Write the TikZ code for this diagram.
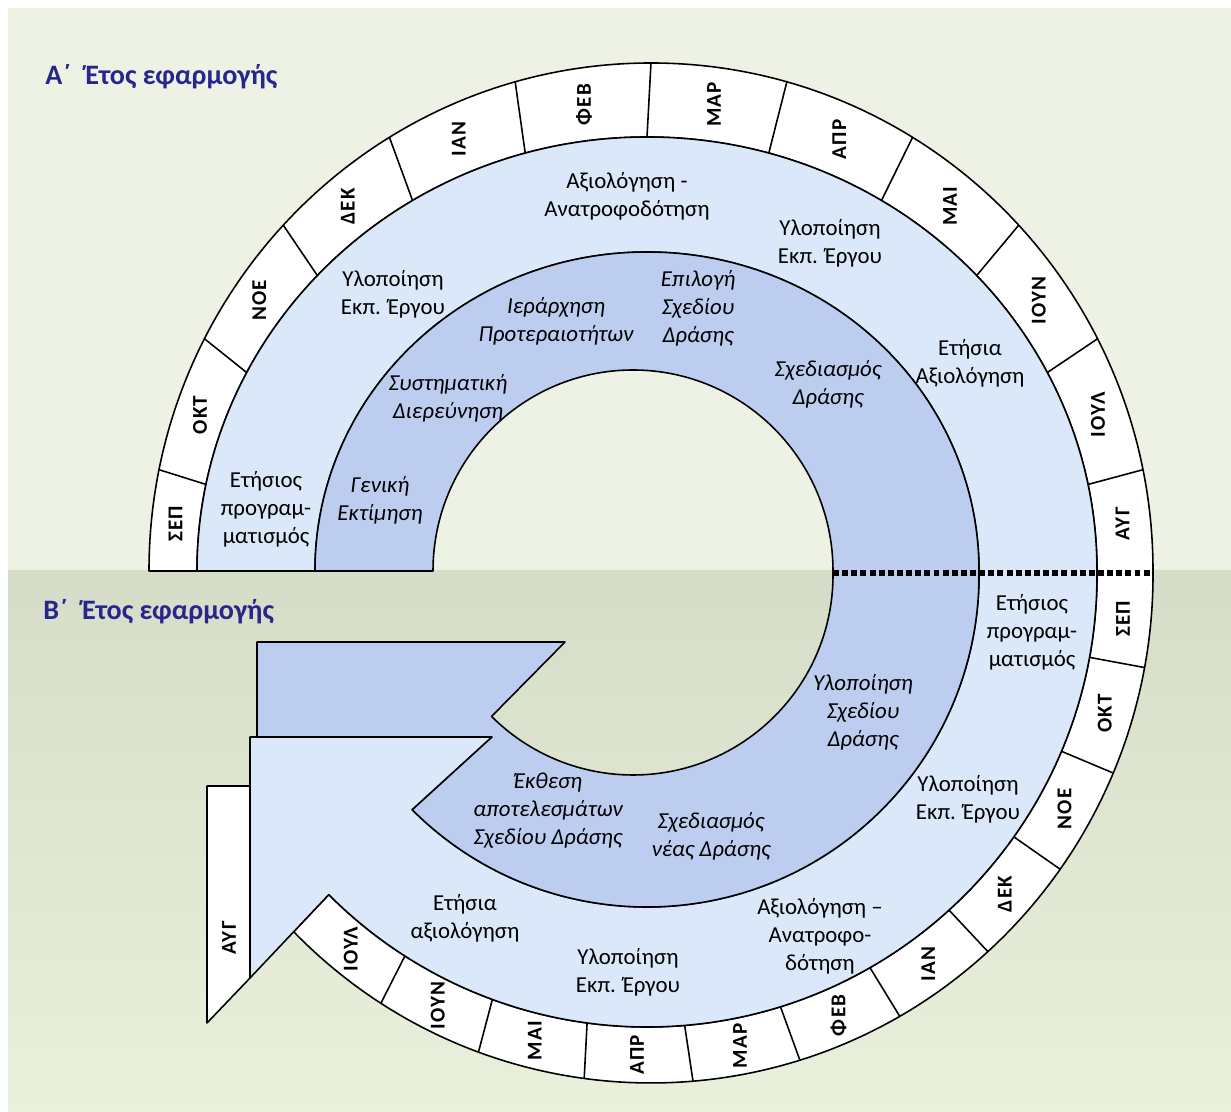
\documentclass[tikz,border=0pt]{standalone}
\usepackage{fontspec}
\setmainfont{Carlito}
\usetikzlibrary{calc}

\definecolor{PaleBg}{RGB}{238,242,229}
\definecolor{LowBgTop}{RGB}{213,220,199}
\definecolor{LowBgBot}{RGB}{233,240,220}
\definecolor{LightBand}{RGB}{219,232,249}
\definecolor{DarkBand}{RGB}{188,205,239}
\definecolor{TitleBlue}{RGB}{38,38,140}

\tikzset{
    ringline/.style={draw=black, line width=0.9pt, line join=round},
    monthcell/.style={ringline, fill=white},
    lightband/.style={ringline, fill=LightBand},
    darkband/.style={ringline, fill=DarkBand},
    monthtext/.style={font=\bfseries\fontsize{12}{13}\selectfont\addfontfeature{LetterSpace=6}, rotate=90, inner sep=0pt},
    bandtext/.style={font=\fontsize{13}{16}\selectfont, align=center, inner sep=0pt},
    darktext/.style={bandtext, font=\itshape\fontsize{13}{16}\selectfont},
    yeartitle/.style={font=\bfseries\fontsize{16}{18}\selectfont, text=TitleBlue, anchor=west, inner sep=0pt},
    yearline/.style={line width=3pt, dash pattern=on 3.4pt off 1.8pt},
}

\begin{document}
\begin{tikzpicture}[x=0.02cm, y=0.02cm]
    \useasboundingbox (0,0) rectangle (1231,1112);

    % background, pale for the first year, shaded for the second
    \fill[white] (0,0) rectangle (1231,1112);
    \fill[PaleBg] (8,541) rectangle (1231,1104);
    \shade[top color=LowBgTop, bottom color=LowBgBot] (8,0) rectangle (1231,541);

    % centres of the rings
    \coordinate (TopOut) at (651,541);
    \coordinate (TopMid) at (647,541);
    \coordinate (TopHole) at (633,541);
    \coordinate (LowOut) at (651,537);
    \coordinate (LowMid) at (647,537);
    \coordinate (LowHole) at (633,537);

    % first year: upper half
    \filldraw[monthcell] ($(TopOut)+(0:502 and 508)$) arc[start angle=0, end angle=180, x radius=502, y radius=508]
        -- ($(TopMid)+(180:450 and 434)$) arc[start angle=180, end angle=0, x radius=450, y radius=434];
    \filldraw[lightband] ($(TopMid)+(0:450 and 434)$) arc[start angle=0, end angle=180, x radius=450, y radius=434]
        -- ($(TopMid)+(180:332 and 319)$) arc[start angle=180, end angle=0, x radius=332, y radius=319];
    \filldraw[darkband] ($(TopMid)+(0:332 and 319)$) arc[start angle=0, end angle=180, x radius=332, y radius=319]
        -- ($(TopHole)+(180:200 and 201)$) arc[start angle=180, end angle=0, x radius=200, y radius=201];

    \foreach \X in {168.5,152.8,137.1,121.4,105.7,90,74.3,58.6,42.9,27.2,11.5} {
        \draw[ringline] ($(TopOut)+(\X:502 and 508)$) -- ($(TopMid)+(\X:450 and 434)$);
    }
    \foreach \X/\M [count=\i] in {174.25/ΣΕΠ, 160.65/ΟΚΤ, 144.95/ΝΟΕ, 129.25/ΔΕΚ, 113.55/ΙΑΝ, 97.85/ΦΕΒ,
            82.15/ΜΑΡ, 66.45/ΑΠΡ, 50.75/ΜΑΙ, 35.05/ΙΟΥΝ, 19.35/ΙΟΥΛ, 5.75/ΑΥΓ} {
        \node[monthtext] (topm\i) at ($(TopMid)+(2,0)+(\X:476 and 471)$) {\M};
    }

    % second year: lower half, ending in the arrow head
    \filldraw[monthcell] ($(LowMid)+(0:450 and 452)+(0,4)$) -- ($(LowMid)+(0:450 and 452)$)
        arc[start angle=0, end angle=-135, x radius=450, y radius=452]
        -- ($(LowOut)+(-135.4:502 and 508)$) arc[start angle=-135.4, end angle=0, x radius=502, y radius=508] -- ++(0,4);
    \filldraw[lightband] ($(LowMid)+(0:450 and 452)+(0,4)$) -- ($(LowMid)+(0:450 and 452)$)
        arc[start angle=0, end angle=-135, x radius=450, y radius=452]
        -- (250,134) -- (250,375) -- (492,375)
        -- ($(LowMid)+(-135:332)$) arc[start angle=-135, end angle=0, radius=332] -- ++(0,4);
    \filldraw[darkband] ($(LowHole)+(0:200)+(0,4)$) -- ($(LowHole)+(0:200)$)
        arc[start angle=0, end angle=-135, radius=200]
        -- (565,470) -- (257,470) -- (257,375) -- (492,375)
        -- ($(LowMid)+(-135:332)$) arc[start angle=-135, end angle=0, radius=332] -- ++(0,4);
    \filldraw[monthcell] (207,326) -- (250,326) -- (250,134) -- (207,89) -- cycle;

    \foreach \X in {-10.5,-22.95,-35.4,-47.85,-60.3,-72.75,-85.2,-97.65,-110.1,-122.55} {
        \draw[ringline] ($(LowOut)+(\X:502 and 508)$) -- ($(LowMid)+(\X:450 and 452)$);
    }
    \foreach \X/\M [count=\i] in {-5.25/ΣΕΠ, -16.73/ΟΚΤ, -29.18/ΝΟΕ, -41.63/ΔΕΚ, -54.08/ΙΑΝ, -66.53/ΦΕΒ,
            -78.98/ΜΑΡ, -91.43/ΑΠΡ, -103.88/ΜΑΙ, -116.33/ΙΟΥΝ, -128.8/ΙΟΥΛ} {
        \node[monthtext] (lowm\i) at ($(LowMid)+(2,0)+(\X:476 and 480)$) {\M};
    }
    \node[monthtext] (lowm12) at (229,174) {ΑΥΓ};

    % border between the two years
    \coordinate (yrA) at ($(LowHole)+(0:200)+(0,2)$);
    \coordinate (yrB) at ($(LowOut)+(0:502 and 508)+(0,2)$);
    \draw[yearline] (yrA) -- (yrB);

    \node[yeartitle] (titleA) at (45,1035) {Α΄\enspace Έτος εφαρμογής};
    \node[yeartitle] (titleB) at (43,500) {Β΄\enspace Έτος εφαρμογής};

    % labels of the first year
    \node[bandtext] (topEval) at (627,916) {Αξιολόγηση -\\Ανατροφοδότηση};
    \node[bandtext] (topProjR) at (830,869) {Υλοποίηση\\Εκπ. Έργου};
    \node[bandtext] (topYearEval) at (970,749) {Ετήσια\\Αξιολόγηση};
    \node[bandtext] (topProjL) at (393,818) {Υλοποίηση\\Εκπ. Έργου};
    \node[bandtext] (topPlan) at (266,603) {Ετήσιος\\προγραμ-\\ματισμός};
    \node[darktext] (topRank) at (556,791) {Ιεράρχηση\\Προτεραιοτήτων};
    \node[darktext] (topChoose) at (698,804) {Επιλογή\\Σχεδίου\\Δράσης};
    \node[darktext] (topDesign) at (828,728) {Σχεδιασμός\\Δράσης};
    \node[darktext] (topSurvey) at (448,714) {Συστηματική\\Διερεύνηση};
    \node[darktext] (topGeneral) at (380,612) {Γενική\\Εκτίμηση};

    % labels of the second year
    \node[bandtext] (lowPlan) at (1032,480) {Ετήσιος\\προγραμ-\\ματισμός};
    \node[darktext] (lowActImpl) at (863,400) {Υλοποίηση\\Σχεδίου\\Δράσης};
    \node[bandtext] (lowProjR) at (968,313) {Υλοποίηση\\Εκπ. Έργου};
    \node[darktext] (lowReport) at (548,301) {Έκθεση\\αποτελεσμάτων\\Σχεδίου Δράσης};
    \node[darktext] (lowNewPlan) at (711,276) {Σχεδιασμός\\νέας Δράσης};
    \node[bandtext] (lowEval) at (820,176) {Αξιολόγηση –\\Ανατροφο-\\δότηση};
    \node[bandtext] (lowYearEval) at (465,194) {Ετήσια\\αξιολόγηση};
    \node[bandtext] (lowProjB) at (628,140) {Υλοποίηση\\Εκπ. Έργου};
\end{tikzpicture}
\end{document}
